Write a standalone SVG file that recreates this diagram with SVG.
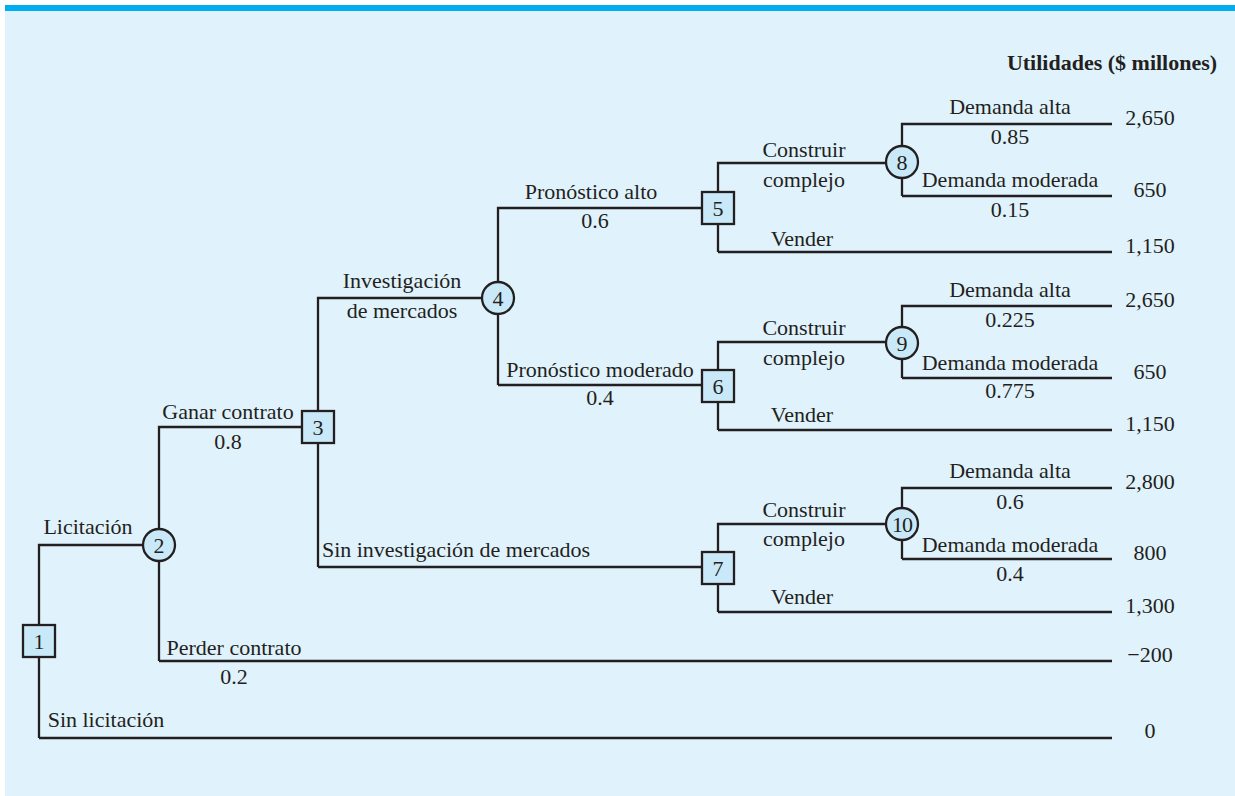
<svg xmlns="http://www.w3.org/2000/svg" width="1235" height="796" viewBox="0 0 1235 796">
<style>
.t{font-family:"Liberation Serif","Times New Roman",serif;font-size:22px;fill:#231F20}
.m{text-anchor:middle}
.b{font-weight:bold}
.ln{fill:none;stroke:#231F20;stroke-width:2.3}
.nd{fill:#C9E9F8;stroke:#231F20;stroke-width:2.3}
</style>
<rect x="5" y="5" width="1230" height="791" fill="#E0F2FC"/>
<rect x="5" y="5" width="1230" height="6" fill="#00AEEF"/>
<text class="t b m" x="1112" y="70">Utilidades ($ millones)</text>
<g id="connectors">
<path class="ln" d="M39,738 V545 H159"/>
<path class="ln" d="M39,738 H1112"/>
<path class="ln" d="M159,661 V427 H318"/>
<path class="ln" d="M159,661 H1112"/>
<path class="ln" d="M318,567 V298 H498"/>
<path class="ln" d="M318,567 H718"/>
<path class="ln" d="M498,385 V208 H718"/>
<path class="ln" d="M498,385 H718"/>
<path class="ln" d="M718,252 V163 H902"/>
<path class="ln" d="M718,252 H1112"/>
<path class="ln" d="M902,196 V124 H1112"/>
<path class="ln" d="M902,196 H1112"/>
<path class="ln" d="M718,430 V342 H902"/>
<path class="ln" d="M718,430 H1112"/>
<path class="ln" d="M902,378 V306 H1112"/>
<path class="ln" d="M902,378 H1112"/>
<path class="ln" d="M718,612 V524 H902"/>
<path class="ln" d="M718,612 H1112"/>
<path class="ln" d="M902,559 V488 H1112"/>
<path class="ln" d="M902,559 H1112"/>
</g>
<g id="labels">
<text class="t m" x="88" y="534">Licitación</text>
<text class="t m" x="106" y="727">Sin licitación</text>
<text class="t m" x="228" y="419">Ganar contrato</text>
<text class="t m" x="228" y="449">0.8</text>
<text class="t m" x="234" y="655">Perder contrato</text>
<text class="t m" x="234" y="684">0.2</text>
<text class="t m" x="402" y="288">Investigación</text>
<text class="t m" x="402" y="318">de mercados</text>
<text class="t m" x="456" y="557">Sin investigación de mercados</text>
<text class="t m" x="591" y="199">Pronóstico alto</text>
<text class="t m" x="595" y="228">0.6</text>
<text class="t m" x="600" y="377">Pronóstico moderado</text>
<text class="t m" x="600" y="405">0.4</text>
<text class="t m" x="804" y="157">Construir</text>
<text class="t m" x="804" y="187">complejo</text>
<text class="t m" x="802" y="246">Vender</text>
<text class="t m" x="804" y="335">Construir</text>
<text class="t m" x="804" y="365">complejo</text>
<text class="t m" x="802" y="422">Vender</text>
<text class="t m" x="804" y="517">Construir</text>
<text class="t m" x="804" y="546">complejo</text>
<text class="t m" x="802" y="604">Vender</text>
<text class="t m" x="1010" y="114">Demanda alta</text>
<text class="t m" x="1010" y="144">0.85</text>
<text class="t m" x="1010" y="187">Demanda moderada</text>
<text class="t m" x="1010" y="217">0.15</text>
<text class="t m" x="1010" y="297">Demanda alta</text>
<text class="t m" x="1010" y="327">0.225</text>
<text class="t m" x="1010" y="370">Demanda moderada</text>
<text class="t m" x="1010" y="398">0.775</text>
<text class="t m" x="1010" y="478">Demanda alta</text>
<text class="t m" x="1010" y="509">0.6</text>
<text class="t m" x="1010" y="552">Demanda moderada</text>
<text class="t m" x="1010" y="581">0.4</text>
<text class="t m" x="1150" y="125">2,650</text>
<text class="t m" x="1150" y="197">650</text>
<text class="t m" x="1150" y="253">1,150</text>
<text class="t m" x="1150" y="307">2,650</text>
<text class="t m" x="1150" y="379">650</text>
<text class="t m" x="1150" y="431">1,150</text>
<text class="t m" x="1150" y="489">2,800</text>
<text class="t m" x="1150" y="560">800</text>
<text class="t m" x="1150" y="613">1,300</text>
<text class="t m" x="1150" y="662">−200</text>
<text class="t m" x="1150" y="738">0</text>
</g>
<g id="node1"><rect class="nd" x="23" y="625" width="32" height="32"/><text class="t m" x="39" y="649">1</text></g>
<g id="node2"><circle class="nd" cx="159" cy="545" r="16"/><text class="t m" x="159" y="553">2</text></g>
<g id="node3"><rect class="nd" x="302" y="411" width="32" height="32"/><text class="t m" x="318" y="435">3</text></g>
<g id="node4"><circle class="nd" cx="498" cy="298" r="16"/><text class="t m" x="498" y="306">4</text></g>
<g id="node5"><rect class="nd" x="702" y="192" width="32" height="32"/><text class="t m" x="718" y="216">5</text></g>
<g id="node6"><rect class="nd" x="702" y="370" width="32" height="32"/><text class="t m" x="718" y="394">6</text></g>
<g id="node7"><rect class="nd" x="702" y="552" width="32" height="32"/><text class="t m" x="718" y="576">7</text></g>
<g id="node8"><circle class="nd" cx="902" cy="162" r="16"/><text class="t m" x="902" y="170">8</text></g>
<g id="node9"><circle class="nd" cx="902" cy="343" r="16"/><text class="t m" x="902" y="351">9</text></g>
<g id="node10"><circle class="nd" cx="902" cy="524" r="16"/><text class="t m" x="902" y="532" style="letter-spacing:-1px">10</text></g>
</svg>
